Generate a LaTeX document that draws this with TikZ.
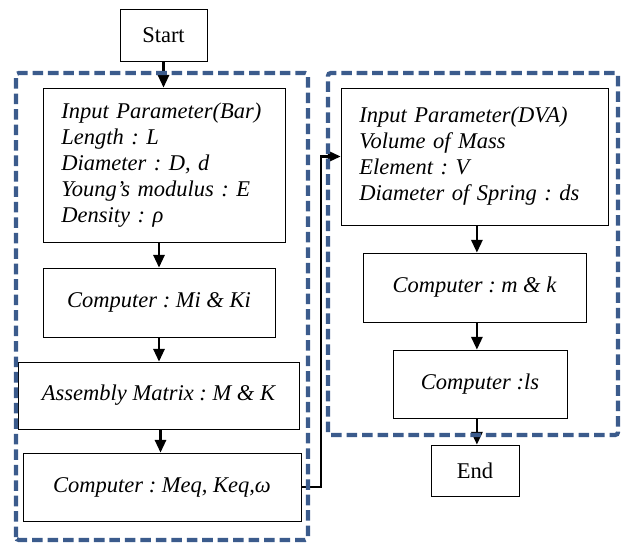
\documentclass[tikz,border=0pt]{standalone}
\usepackage{fontspec}
\setmainfont{Liberation Serif}
\usetikzlibrary{arrows.meta,positioning}
\definecolor{frameblue}{RGB}{59,91,140}
\frenchspacing

\begin{document}
\begin{tikzpicture}
\tikzstyle{term} = [rectangle, draw, line width=0.6pt, inner sep=0pt, font=\fontsize{16}{18.5}\selectfont]
\tikzstyle{box} = [rectangle, draw, line width=0.6pt, inner sep=0pt, font=\fontsize{16}{18.5}\selectfont\itshape]
\tikzstyle{listbox} = [box, align=left, inner xsep=0.46cm]
\tikzstyle{arrow} = [line width=1.5pt, -{Triangle[length=9pt,width=8pt]}]
\tikzstyle{group} = [line width=3pt, frameblue, dash pattern=on 7.5pt off 3.5pt, rounded corners=2pt]

\useasboundingbox (0,0) rectangle (15.625,13.575);

% left column: bar
\node[term, minimum width=2.175cm, minimum height=1.3cm] (start) at (4.0875,12.7) {\raisebox{-0.2cm}{Start}};
\node[listbox, text width=5.13cm, minimum height=3.85cm] (bar) at (4.1,9.45)
  {Input Parameter(Bar)\\ Length : L\\ Diameter : D, d\\ Young’s modulus : E\\ Density : ρ};
\node[box, minimum width=5.8cm, minimum height=1.725cm] (mki) at (3.975,6.0125) {Computer : Mi \& Ki};
\node[box, minimum width=7.025cm, minimum height=1.675cm] (assembly) at (3.9625,3.6875) {Assembly Matrix : M \& K};
\node[box, minimum width=6.95cm, minimum height=1.7cm] (meq) at (4.05,1.4) {Computer : Meq, Keq,ω};

% right column: DVA
\node[listbox, text width=5.755cm, minimum height=3.425cm] (dva) at (11.8625,9.6625)
  {Input Parameter(DVA)\\ Volume of Mass\\ Element : V\\ Diameter of Spring : ds};
\node[box, minimum width=5.575cm, minimum height=1.725cm] (mk) at (11.8625,6.3875) {Computer : m \& k};
\node[box, minimum width=4.35cm, minimum height=1.7cm] (ls) at (12.0,3.975) {Computer :ls};
\node[term, minimum width=2.2cm, minimum height=1.275cm] (end) at (11.875,1.8125) {\raisebox{-0.2cm}{End}};

\draw[arrow] (start) -- (start |- bar.north);
\draw[arrow] (mki.north |- bar.south) -- (mki.north);
\draw[arrow] (mki) -- (mki |- assembly.north);
\draw[arrow] (assembly.south) ++(0.05,0) coordinate (asmout) -- (asmout |- meq.north);
\draw[arrow] (meq.east) -- ++(0.5,0) |- (dva.west);
\draw[arrow] (dva.south) ++(0.06,0) coordinate (dvaout) -- (dvaout |- mk.north);
\draw[arrow] (dvaout |- mk.south) -- (dvaout |- ls.north);
\draw[arrow] (dvaout |- ls.south) -- (dvaout |- end.north);

% dashed frames
\draw[group] (0.4,0.075) rectangle (7.7,11.75);
\draw[group] (8.2,2.7) rectangle (15.45,11.75);
\end{tikzpicture}
\end{document}
